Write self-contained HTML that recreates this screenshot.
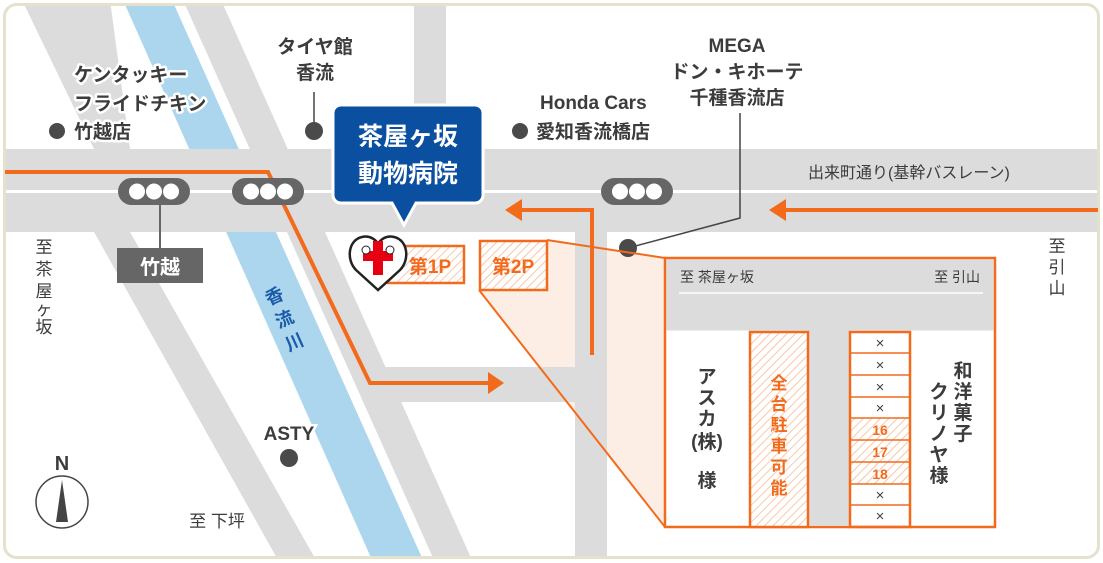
<!DOCTYPE html>
<html><head><meta charset="utf-8"><style>
html,body{margin:0;padding:0;background:#fff;}
svg{display:block;}
text{font-family:"Liberation Sans","Noto Sans CJK JP",sans-serif;}
</style></head><body>
<svg width="1103" height="563" viewBox="0 0 1103 563" xmlns="http://www.w3.org/2000/svg">
<defs>
<pattern id="h" width="6" height="6" patternUnits="userSpaceOnUse" patternTransform="rotate(45)">
<rect width="6" height="6" fill="#fff"/>
<line x1="0" y1="0" x2="0" y2="6" stroke="#f7b48c" stroke-width="1.5"/>
</pattern>
<clipPath id="c"><rect x="5" y="5" width="1093" height="552" rx="12"/></clipPath>
</defs>
<rect x="0" y="0" width="1103" height="563" fill="#fff"/>
<g clip-path="url(#c)">
<!-- pink region -->
<polygon points="547,240 665,258 665,527 479,290" fill="#fdeee5"/>
<!-- roads -->
<polygon points="22,0 110,0 130,149 94,149" fill="#dcdcdc"/>
<polygon points="94,232 130,232 316,560 278,560" fill="#dcdcdc"/>
<polygon points="183,0 221,0 472,560 434,560" fill="#dcdcdc"/>
<polygon points="117,0 178,0 430,560 366,560" fill="#fff"/>
<polygon points="123,0 172,0 423,560 372,560" fill="#abd6ee"/>
<rect x="414" y="0" width="32" height="150" fill="#dcdcdc"/>
<rect x="0" y="149" width="1103" height="83" fill="#dcdcdc"/>
<rect x="0" y="190" width="1103" height="3" fill="#fff"/>
<rect x="575" y="230" width="32" height="330" fill="#dcdcdc"/>
<polygon points="375,367 590,367 590,402 395,402" fill="#dcdcdc"/>
</g>
<!-- frame -->
<rect x="4.5" y="4.5" width="1094" height="553" rx="12" fill="none" stroke="#e4e1cc" stroke-width="3"/>

<!-- orange routes -->
<g stroke="#f26b1d" stroke-width="4" fill="none">
<polyline points="5,172 268,172 370,383 490,383"/>
<polyline points="592,355 592,210 520,210"/>
<line x1="1098" y1="210" x2="785" y2="210"/>
</g>
<g fill="#f26b1d">
<polygon points="488,372 504,383 488,394"/>
<polygon points="522,199 505,210 522,221"/>
<polygon points="786,199 769,210 786,221"/>
</g>

<!-- traffic lights -->
<g fill="#666">
<rect x="118" y="178" width="72" height="27" rx="13.5"/>
<rect x="232" y="178" width="72" height="27" rx="13.5"/>
<rect x="601" y="178" width="72" height="27" rx="13.5"/>
</g>
<g fill="#fff">
<circle cx="137" cy="191.5" r="8"/><circle cx="154" cy="191.5" r="8"/><circle cx="171" cy="191.5" r="8"/>
<circle cx="251" cy="191.5" r="8"/><circle cx="268" cy="191.5" r="8"/><circle cx="285" cy="191.5" r="8"/>
<circle cx="620" cy="191.5" r="8"/><circle cx="637" cy="191.5" r="8"/><circle cx="654" cy="191.5" r="8"/>
</g>
<line x1="160" y1="205" x2="160" y2="248" stroke="#666" stroke-width="2"/>
<rect x="117" y="248" width="86" height="35" fill="#666"/>
<text x="160" y="274" font-size="20" fill="#fff" text-anchor="middle" font-weight="bold">竹越</text>

<!-- labels top -->
<g fill="#3c3c3c" font-size="19" font-weight="bold" stroke="#fff" stroke-width="5" paint-order="stroke" stroke-linejoin="round">
<text x="74" y="81">ケンタッキー</text>
<text x="74" y="110">フライドチキン</text>
<text x="74" y="138">竹越店</text>
</g>
<circle cx="57" cy="131" r="8" fill="#4a4a4a"/>
<g fill="#3c3c3c" font-size="19" font-weight="bold">
<text x="315" y="53" text-anchor="middle">タイヤ館</text>
<text x="315" y="79" text-anchor="middle">香流</text>
<text x="540" y="109">Honda Cars</text>
<text x="536" y="138">愛知香流橋店</text>
<text x="737" y="52" text-anchor="middle">MEGA</text>
<text x="737" y="78" text-anchor="middle">ドン・キホーテ</text>
<text x="737" y="104" text-anchor="middle">千種香流店</text>
</g>
<line x1="314" y1="92" x2="314" y2="130" stroke="#444" stroke-width="1.5"/>
<circle cx="314" cy="131" r="9" fill="#4a4a4a"/>
<circle cx="520" cy="131" r="8" fill="#4a4a4a"/>
<polyline points="740,113 740,218 628,248" fill="none" stroke="#444" stroke-width="1.5"/>
<circle cx="628" cy="248" r="9" fill="#4a4a4a"/>
<text x="808" y="178" font-size="16" fill="#3c3c3c">出来町通り(基幹バスレーン)</text>

<!-- hospital callout -->
<path d="M341,105 H475 a8,8 0 0 1 8,8 V195 a8,8 0 0 1 -8,8 H416 L404,225 L392,203 H341 a8,8 0 0 1 -8,-8 V113 a8,8 0 0 1 8,-8 Z" fill="#0a4fa0" stroke="#fff" stroke-width="3"/>
<text x="408" y="145" font-size="25" fill="#fff" font-weight="bold" text-anchor="middle">茶屋ヶ坂</text>
<text x="408" y="182" font-size="25" fill="#fff" font-weight="bold" text-anchor="middle">動物病院</text>

<!-- parking boxes -->
<rect x="388" y="246" width="76" height="37" fill="url(#h)" stroke="#f26b1d" stroke-width="2.5"/>
<text x="430" y="273" font-size="19" fill="#f26b1d" font-weight="bold" text-anchor="middle">第1P</text>
<line x1="547" y1="240" x2="665" y2="258" stroke="#f26b1d" stroke-width="2"/>
<line x1="479" y1="290" x2="665" y2="527" stroke="#f26b1d" stroke-width="2"/>
<rect x="480" y="241" width="67" height="49" fill="url(#h)" stroke="#f26b1d" stroke-width="2.5"/>
<text x="513" y="273" font-size="19" fill="#f26b1d" font-weight="bold" text-anchor="middle">第2P</text>

<!-- logo -->
<path d="M378,290 L356,270 C346,260 348,240 362,237 C370,235 376,240 378,244 C380,240 386,235 394,237 C408,240 410,260 400,270 Z" fill="#fff" stroke="#222" stroke-width="2.5"/>
<path d="M373,241 h10 v10 h10 v10 h-10 v14 h-10 v-14 h-10 v-10 h10 Z" fill="#e60012"/>
<circle cx="366" cy="250" r="4" fill="#fff" stroke="#222" stroke-width="1"/>
<circle cx="390" cy="250" r="4" fill="#fff" stroke="#222" stroke-width="1"/>

<!-- enlarged box -->
<rect x="665" y="258" width="330" height="269" fill="#fff" stroke="#f26b1d" stroke-width="2.5"/>
<rect x="666.5" y="259.5" width="327" height="71" fill="#dcdcdc"/>
<line x1="679" y1="293" x2="983" y2="293" stroke="#fff" stroke-width="1.5"/>
<text x="680" y="282" font-size="14" fill="#3c3c3c">至 茶屋ヶ坂</text>
<text x="980" y="282" font-size="14" fill="#3c3c3c" text-anchor="end">至 引山</text>
<rect x="808" y="330" width="42" height="196" fill="#dcdcdc"/>
<rect x="750" y="332" width="58" height="195" fill="url(#h)" stroke="#f26b1d" stroke-width="2.5"/>
<g font-size="17" fill="#f26b1d" font-weight="bold" text-anchor="middle">
<text x="779" y="389">全</text><text x="779" y="410">台</text><text x="779" y="431">駐</text><text x="779" y="452">車</text><text x="779" y="473">可</text><text x="779" y="494">能</text>
</g>
<rect x="850" y="418" width="60" height="66" fill="url(#h)"/>
<g stroke="#f26b1d" stroke-width="1.5">
<line x1="850" y1="353" x2="910" y2="353"/><line x1="850" y1="375" x2="910" y2="375"/><line x1="850" y1="397" x2="910" y2="397"/><line x1="850" y1="418" x2="910" y2="418"/><line x1="850" y1="440" x2="910" y2="440"/><line x1="850" y1="462" x2="910" y2="462"/><line x1="850" y1="484" x2="910" y2="484"/><line x1="850" y1="505" x2="910" y2="505"/>
</g>
<rect x="850" y="332" width="60" height="195" fill="none" stroke="#f26b1d" stroke-width="2.5"/>
<g font-size="15" fill="#444" text-anchor="middle">
<text x="880" y="348">×</text><text x="880" y="370">×</text><text x="880" y="392">×</text><text x="880" y="413">×</text><text x="880" y="500">×</text><text x="880" y="521">×</text>
</g>
<g font-size="14" fill="#f26b1d" font-weight="bold" text-anchor="middle">
<text x="880" y="435">16</text><text x="880" y="457">17</text><text x="880" y="479">18</text>
</g>
<g font-size="19" fill="#3c3c3c" font-weight="bold" text-anchor="middle">
<text x="707" y="383">ア</text><text x="707" y="404">ス</text><text x="707" y="425">カ</text><text x="707" y="448">(株)</text><text x="707" y="487">様</text>
<text x="939" y="398">ク</text><text x="939" y="419">リ</text><text x="939" y="440">ノ</text><text x="939" y="461">ヤ</text><text x="939" y="482">様</text>
<text x="963" y="377">和</text><text x="963" y="398">洋</text><text x="963" y="419">菓</text><text x="963" y="440">子</text>
</g>

<!-- directions -->
<g font-size="17" fill="#3c3c3c" text-anchor="middle">
<text x="44" y="253">至</text><text x="44" y="275">茶</text><text x="44" y="297">屋</text><text x="44" y="315">ヶ</text><text x="44" y="333">坂</text>
<text x="1057" y="252">至</text><text x="1057" y="273">引</text><text x="1057" y="294">山</text>
<text x="217" y="527">至 下坪</text>
</g>
<!-- river label -->
<g font-size="18" fill="#1a5aa8" font-weight="bold" text-anchor="middle">
<text transform="translate(277,302) rotate(-24)">香</text>
<text transform="translate(287,325) rotate(-24)">流</text>
<text transform="translate(297,348) rotate(-24)">川</text>
</g>
<text x="289" y="440" font-size="19" fill="#3c3c3c" font-weight="bold" text-anchor="middle" stroke="#fff" stroke-width="5" paint-order="stroke">ASTY</text>
<circle cx="289" cy="458" r="9" fill="#4a4a4a"/>
<!-- compass -->
<text x="62" y="470" font-size="20" fill="#3c3c3c" font-weight="bold" text-anchor="middle">N</text>
<circle cx="62" cy="502" r="26" fill="none" stroke="#444" stroke-width="1.5"/>
<polygon points="62,480 56,522 68,522" fill="#444"/>
</svg>
</body></html>
